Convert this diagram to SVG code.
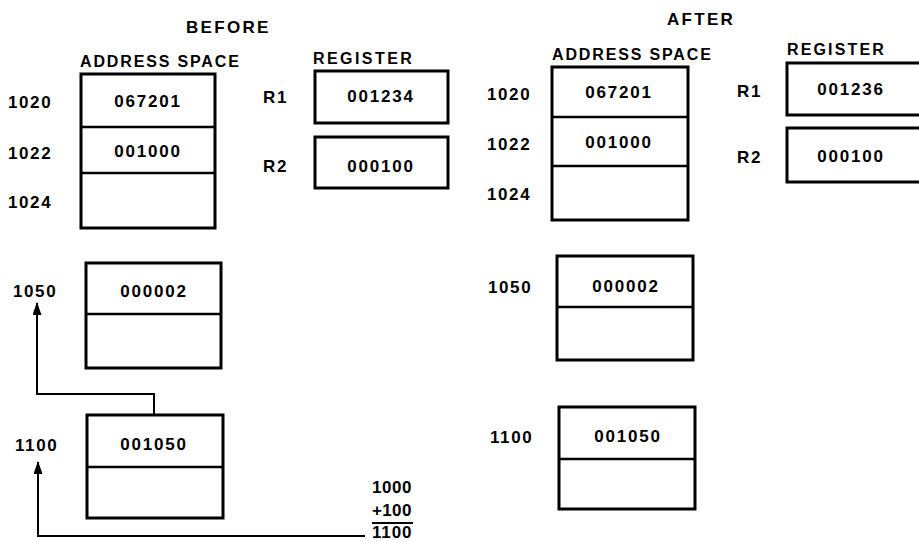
<svg xmlns="http://www.w3.org/2000/svg" width="919" height="541" viewBox="0 0 919 541">
<style>
text{font-family:"Liberation Sans",Arial,sans-serif;fill:#000}
.h{font-size:17px;font-weight:bold;letter-spacing:2.3px}
.sub{font-size:16px;font-weight:bold;letter-spacing:1.2px}
.lbl{font-size:17px;font-weight:bold;letter-spacing:1.6px}
.val{font-size:17px;font-weight:bold;letter-spacing:1.8px;text-anchor:middle}
.box{fill:#fff;stroke:#000;stroke-width:3}
.div{stroke:#000;stroke-width:2.5;fill:none}
.wire{stroke:#000;stroke-width:2;fill:none}
</style>
<defs>
<marker id="ah" markerWidth="13" markerHeight="9" refX="12" refY="4.5" orient="auto" markerUnits="userSpaceOnUse" viewBox="0 0 13 9">
<path d="M0,0 L13,4.5 L0,9 Z" fill="#000"/>
</marker>
</defs>
<rect width="919" height="541" fill="#fff"/>

<g id="headings">
<text class="h" x="186" y="33">BEFORE</text>
<text class="sub" x="80" y="67" textLength="160">ADDRESS SPACE</text>
<text class="sub" x="313" y="64" textLength="100">REGISTER</text>
<text class="h" x="667" y="25">AFTER</text>
<text class="sub" x="552" y="60" textLength="160">ADDRESS SPACE</text>
<text class="sub" x="787" y="55" textLength="98">REGISTER</text>
</g>

<g id="before-addr">
<rect class="box" x="81" y="74" width="134" height="154"/>
<line class="div" x1="81" y1="127" x2="215" y2="127"/>
<line class="div" x1="81" y1="173" x2="215" y2="173"/>
<text class="val" x="148" y="107">067201</text>
<text class="val" x="148" y="157">001000</text>
<text class="lbl" x="8" y="108">1020</text>
<text class="lbl" x="8" y="159">1022</text>
<text class="lbl" x="8" y="208">1024</text>
</g>

<g id="before-r1">
<rect class="box" x="315" y="71" width="133" height="52"/>
<text class="val" x="381" y="102">001234</text>
<text class="lbl" x="263" y="103">R1</text>
</g>
<g id="before-r2">
<rect class="box" x="315" y="137" width="133" height="51"/>
<text class="val" x="381" y="172">000100</text>
<text class="lbl" x="263" y="172">R2</text>
</g>

<g id="before-1050">
<rect class="box" x="86" y="263" width="135" height="105"/>
<line class="div" x1="86" y1="314" x2="221" y2="314"/>
<text class="val" x="154" y="297">000002</text>
<text class="lbl" x="13" y="297">1050</text>
</g>

<g id="before-1100">
<rect class="box" x="87" y="415" width="136" height="103"/>
<line class="div" x1="87" y1="467" x2="223" y2="467"/>
<text class="val" x="154" y="450">001050</text>
<text class="lbl" x="15" y="451">1100</text>
</g>

<g id="sum">
<text class="lbl" x="372" y="493" textLength="41">1000</text>
<text class="lbl" x="372" y="516" textLength="41">+100</text>
<line class="wire" x1="372" y1="523" x2="413" y2="523"/>
<text class="lbl" x="372" y="538" textLength="41">1100</text>
</g>

<g id="connectors">
<path class="wire" d="M154,414 V394 H37 V303" marker-end="url(#ah)"/>
<path class="wire" d="M365,536 H38 V462" marker-end="url(#ah)"/>
</g>

<g id="after-addr">
<rect class="box" x="552" y="67" width="136" height="153"/>
<line class="div" x1="552" y1="117" x2="688" y2="117"/>
<line class="div" x1="552" y1="166" x2="688" y2="166"/>
<text class="val" x="619" y="98">067201</text>
<text class="val" x="619" y="148">001000</text>
<text class="lbl" x="487" y="100">1020</text>
<text class="lbl" x="487" y="150">1022</text>
<text class="lbl" x="487" y="200">1024</text>
</g>

<g id="after-r1">
<rect class="box" x="787" y="63" width="134" height="52"/>
<text class="val" x="851" y="95">001236</text>
<text class="lbl" x="737" y="97">R1</text>
</g>
<g id="after-r2">
<rect class="box" x="787" y="128" width="134" height="54"/>
<text class="val" x="851" y="162">000100</text>
<text class="lbl" x="737" y="163">R2</text>
</g>

<g id="after-1050">
<rect class="box" x="557" y="256" width="136" height="104"/>
<line class="div" x1="557" y1="307" x2="693" y2="307"/>
<text class="val" x="626" y="292">000002</text>
<text class="lbl" x="488" y="293">1050</text>
</g>

<g id="after-1100">
<rect class="box" x="559" y="407" width="136" height="102"/>
<line class="div" x1="559" y1="459" x2="695" y2="459"/>
<text class="val" x="628" y="442">001050</text>
<text class="lbl" x="490" y="443">1100</text>
</g>
</svg>
